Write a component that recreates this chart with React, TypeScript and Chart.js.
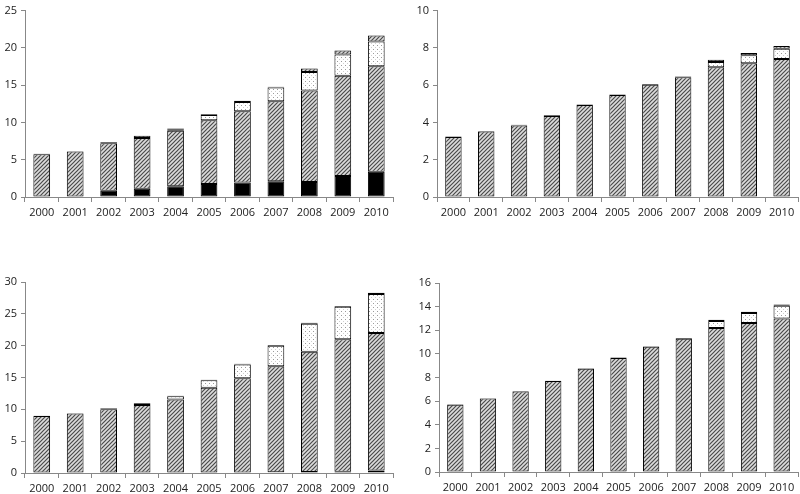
import React, { useEffect, useRef } from "react";
import { Chart, registerables } from "chart.js";

Chart.register(...registerables);

const years = ["2000", "2001", "2002", "2003", "2004", "2005", "2006", "2007", "2008", "2009", "2010"];

// Panel 1 (top-left)
const p1Black = [0, 0, 0.85, 1.1, 1.45, 1.75, 1.95, 2.1, 2.0, 2.8, 3.4];
const p1Hatch = [5.75, 6.1, 6.35, 6.8, 7.45, 8.55, 9.55, 10.75, 12.3, 13.45, 14.15];
const p1Dotted = [0, 0, 0, 0, 0.2, 0.7, 1.25, 1.85, 2.45, 2.85, 3.3];
const p1Top = [0.05, 0.05, 0.15, 0.3, 0.1, 0.1, 0.15, 0.1, 0.5, 0.55, 0.8];
const p1Ticks = { max: 25, step: 5 };

// Panel 2 (top-right)
const p2Black = [0, 0, 0, 0, 0, 0, 0, 0, 0, 0, 0];
const p2Hatch = [3.22, 3.51, 3.84, 4.35, 4.93, 5.47, 6.02, 6.43, 6.96, 7.17, 7.4];
const p2Dotted = [0, 0, 0, 0, 0, 0, 0, 0, 0.28, 0.43, 0.56];
const p2Top = [0.03, 0.03, 0.03, 0.03, 0.03, 0.03, 0.04, 0.04, 0.12, 0.13, 0.14];
const p2Ticks = { max: 10, step: 2 };

// Panel 3 (bottom-left)
const p3Black = [0, 0, 0, 0, 0, 0, 0, 0.1, 0.15, 0.2, 0.4];
const p3Hatch = [8.95, 9.35, 10.0, 10.7, 11.55, 13.4, 14.9, 16.65, 18.9, 20.8, 21.6];
const p3Dotted = [0, 0, 0.15, 0.25, 0.5, 1.15, 2.15, 3.25, 4.4, 5.1, 6.1];
const p3Top = [0.03, 0.05, 0.05, 0.05, 0.1, 0.1, 0.1, 0.1, 0.15, 0.15, 0.2];
const p3Ticks = { max: 30, step: 5 };

// Panel 4 (bottom-right)
const p4Black = [0, 0, 0, 0, 0, 0, 0, 0, 0, 0, 0];
const p4Hatch = [5.7, 6.22, 6.82, 7.7, 8.74, 9.66, 10.6, 11.28, 12.2, 12.62, 13.0];
const p4Dotted = [0, 0, 0, 0, 0, 0, 0, 0, 0.58, 0.85, 1.08];
const p4Top = [0.03, 0.03, 0.03, 0.03, 0.04, 0.04, 0.04, 0.06, 0.1, 0.1, 0.11];
const p4Ticks = { max: 16, step: 2 };

function makeHatch(): CanvasPattern | string {
  const c = document.createElement("canvas");
  c.width = 4;
  c.height = 4;
  const g = c.getContext("2d");
  if (!g) return "#999";
  g.fillStyle = "#dcdcdc";
  g.fillRect(0, 0, 4, 4);
  g.strokeStyle = "#4a4a4a";
  g.lineWidth = 1.2;
  g.beginPath();
  g.moveTo(-1, 5);
  g.lineTo(5, -1);
  g.moveTo(-1, 1);
  g.lineTo(1, -1);
  g.moveTo(3, 5);
  g.lineTo(5, 3);
  g.stroke();
  return g.createPattern(c, "repeat") || "#999";
}

function makeDots(): CanvasPattern | string {
  const c = document.createElement("canvas");
  c.width = 4;
  c.height = 4;
  const g = c.getContext("2d");
  if (!g) return "#fff";
  g.fillStyle = "#ffffff";
  g.fillRect(0, 0, 4, 4);
  g.fillStyle = "#9a9a9a";
  g.fillRect(1, 1, 1, 1);
  g.fillStyle = "#d0d0d0";
  g.fillRect(3, 3, 1, 1);
  return g.createPattern(c, "repeat") || "#fff";
}

type PanelProps = {
  black: number[];
  hatch: number[];
  dotted: number[];
  top: number[];
  ticks: { max: number; step: number };
  box: { left: number; top: number; width: number; height: number; padTop: number; padRight: number; yW: number; xH: number };
};

const font = { family: "'Open Sans', 'DejaVu Sans', sans-serif", size: 11 };

function Panel({ black, hatch, dotted, top, ticks, box }: PanelProps) {
  const ref = useRef<HTMLCanvasElement | null>(null);
  useEffect(() => {
    if (!ref.current) return;
    const hp = makeHatch();
    const dp = makeDots();
    const common = {
      borderColor: "#000",
      borderWidth: (ctx: any) => (ctx.raw ? 1 : 0),
      borderSkipped: false as const,
      barPercentage: 0.5,
      categoryPercentage: 1,
    };
    const chart = new Chart(ref.current, {
      type: "bar",
      data: {
        labels: years,
        datasets: [
          { data: black, backgroundColor: "#000", ...common },
          { data: hatch, backgroundColor: hp as any, ...common },
          { data: dotted, backgroundColor: dp as any, ...common },
          { data: top, backgroundColor: hp as any, ...common },
        ],
      },
      options: {
        animation: false,
        responsive: false,
        layout: { padding: { top: box.padTop, right: box.padRight, left: 0, bottom: 0 } },
        plugins: { legend: { display: false }, tooltip: { enabled: false } },
        scales: {
          x: {
            stacked: true,
            grid: { offset: true, drawOnChartArea: false, drawTicks: true, tickLength: 5, color: "#888" },
            border: { color: "#888" },
            ticks: { font, color: "#222", padding: 4, maxRotation: 0, autoSkip: false },
            afterFit: (s: any) => {
              s.height = box.xH;
            },
          },
          y: {
            stacked: true,
            min: 0,
            max: ticks.max,
            ticks: { stepSize: ticks.step, font, color: "#222", padding: 4 },
            grid: { drawOnChartArea: false, drawTicks: true, tickLength: 4, color: "#888" },
            border: { color: "#888" },
            afterFit: (s: any) => {
              s.width = box.yW;
            },
          },
        },
      },
    });
    return () => chart.destroy();
  }, []);
  return (
    <canvas
      ref={ref}
      width={box.width}
      height={box.height}
      style={{ position: "absolute", left: box.left, top: box.top, width: box.width, height: box.height }}
    />
  );
}

export default function App() {
  return (
    <div style={{ position: "fixed", left: 0, top: 0, width: 800, height: 494, background: "#fff", overflow: "hidden" }}>
      <Panel black={p1Black} hatch={p1Hatch} dotted={p1Dotted} top={p1Top} ticks={p1Ticks}
        box={{ left: 0, top: 0, width: 400, height: 225, padTop: 7, padRight: 7, yW: 25, xH: 28 }} />
      <Panel black={p2Black} hatch={p2Hatch} dotted={p2Dotted} top={p2Top} ticks={p2Ticks}
        box={{ left: 400, top: 0, width: 400, height: 225, padTop: 7, padRight: 2, yW: 37, xH: 28 }} />
      <Panel black={p3Black} hatch={p3Hatch} dotted={p3Dotted} top={p3Top} ticks={p3Ticks}
        box={{ left: 0, top: 250, width: 400, height: 244, padTop: 32, padRight: 7, yW: 25, xH: 21 }} />
      <Panel black={p4Black} hatch={p4Hatch} dotted={p4Dotted} top={p4Top} ticks={p4Ticks}
        box={{ left: 400, top: 250, width: 400, height: 244, padTop: 33, padRight: 2, yW: 39, xH: 22 }} />
    </div>
  );
}
